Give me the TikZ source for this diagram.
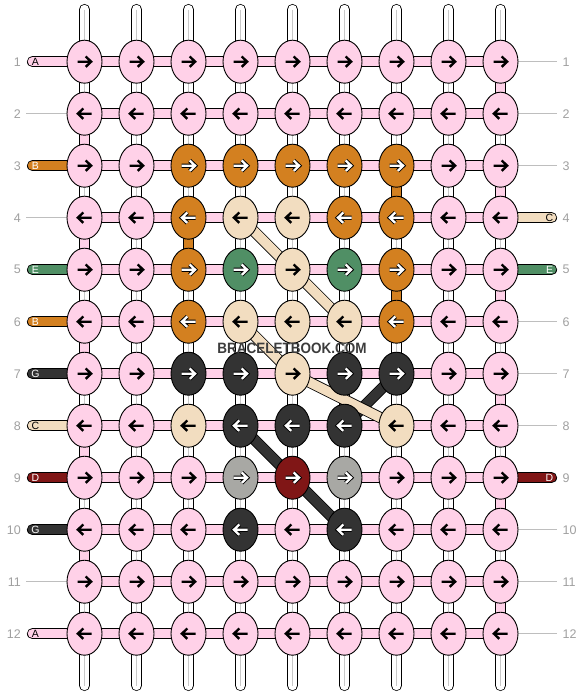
\documentclass[tikz,border=0pt]{standalone}
\usepackage{fontspec}
\setmainfont{Liberation Sans}
\usetikzlibrary{shapes.geometric}
\definecolor{kpink}{RGB}{255,209,232}
\definecolor{korange}{RGB}{211,128,32}
\definecolor{kbeige}{RGB}{242,221,192}
\definecolor{kgreen}{RGB}{80,143,101}
\definecolor{kdark}{RGB}{51,51,51}
\definecolor{kred}{RGB}{128,22,22}
\definecolor{kgrey}{RGB}{168,168,164}
\definecolor{numgrey}{RGB}{160,160,160}
\definecolor{linegrey}{RGB}{190,190,190}
\definecolor{tubegrey}{RGB}{200,200,200}
\definecolor{wmark}{RGB}{60,60,60}
\tikzset{
  knot/.style={ellipse, draw=black, line width=0.9pt, minimum width=35pt, minimum height=43pt, inner sep=0pt},
  band/.style={line width=0.8pt, draw=black, double=#1, double distance=9.5pt},
  tube/.style={band=white, line cap=round},
  gline/.style={draw=linegrey, line width=1pt},
  num/.style={text=numgrey, font=\fontsize{12.5}{13}\selectfont, inner sep=0pt},
  lbl/.style={font=\fontsize{10.5}{11}\selectfont, inner sep=0pt},
  pics/barr/.style={code={\draw[line width=2.4pt, line join=miter, black] (-7,0) -- (6.2,0) (1.2,-5.2) -- (6.6,0) -- (1.2,5.2);}},
  pics/warr/.style={code={
    \draw[line width=4.2pt, line join=miter, black] (-7,0) -- (6.2,0) (1.2,-5.2) -- (6.6,0) -- (1.2,5.2);
    \draw[line width=2.3pt, line join=miter, white] (-7,0) -- (6.2,0) (1.2,-5.2) -- (6.6,0) -- (1.2,5.2);}}
}
\begin{document}
\begin{tikzpicture}[x=1pt,y=-1pt]
\useasboundingbox (0,0) rectangle (584,696);
\fill[white] (0,0) rectangle (584,696);
% knot colours other than pink
\foreach \r/\c/\col in {3/3/korange,3/4/korange,3/5/korange,3/6/korange,3/7/korange,
  4/3/korange,4/4/kbeige,4/5/kbeige,4/6/korange,4/7/korange,
  5/3/korange,5/4/kgreen,5/5/kbeige,5/6/kgreen,5/7/korange,
  6/3/korange,6/4/kbeige,6/5/kbeige,6/6/kbeige,6/7/korange,
  7/3/kdark,7/4/kdark,7/5/kbeige,7/6/kdark,7/7/kdark,
  8/3/kbeige,8/4/kdark,8/5/kdark,8/6/kdark,8/7/kbeige,
  9/4/kgrey,9/5/kred,9/6/kgrey,
  10/4/kdark,10/6/kdark}{\expandafter\xdef\csname kc-\r-\c\endcsname{\col}}
% grid points
\foreach \r in {1,...,12}{\foreach \c in {1,...,9}{
  \coordinate (p-\r-\c) at ({84.5+52*(\c-1)},{61.7+52*(\r-1)});}}
\foreach \c in {1,...,9}{
  \coordinate (T-\c) at ({84.5+52*(\c-1)},9.5);
  \coordinate (B-\c) at ({84.5+52*(\c-1)},685.5);}
% vertical warp strings
\foreach \c in {1,...,9}{
  \draw[tube] (T-\c) -- (B-\c);
  \draw[tubegrey, line width=1.4pt] (T-\c) -- (B-\c);}
% coloured vertical segments
\foreach \c/\r/\col in {1/2/kpink,1/4/kpink,1/6/kpink,1/8/kpink,1/10/kpink,
  9/1/kpink,9/3/kpink,9/5/kpink,9/7/kpink,9/9/kpink,9/11/kpink,
  3/4/korange,7/3/korange,7/5/korange}{
  \pgfmathtruncatemacro\rn{\r+1}
  \draw[band=\col] (p-\r-\c) -- (p-\rn-\c);}
% horizontal strings
\foreach \r in {1,...,12}{\draw[band=kpink] (p-\r-1) -- (p-\r-9);}
% left ends
\foreach \r/\t/\col/\tc in {1/A/kpink/black,3/B/korange/white,5/E/kgreen/white,6/B/korange/white,
  7/G/kdark/white,8/C/kbeige/black,9/D/kred/white,10/G/kdark/white,12/A/kpink/black}{
  \coordinate (L-\r) at (32.5,{61.7+52*(\r-1)});
  \draw[band=\col, line cap=round] (L-\r) -- (p-\r-1);
  \node[lbl, text=\tc] (lt-\r) at (35.5,{61.7+52*(\r-1)}) {\t};}
\foreach \r in {2,4,11}{
  \coordinate (L-\r) at (26,{61.7+52*(\r-1)});
  \draw[gline] (L-\r) -- (p-\r-1);}
% right ends
\foreach \r/\t/\col/\tc in {4/C/kbeige/black,5/E/kgreen/white,9/D/kred/white}{
  \coordinate (R-\r) at (551.5,{61.7+52*(\r-1)});
  \draw[band=\col, line cap=round] (p-\r-9) -- (R-\r);
  \node[lbl, text=\tc] (rt-\r) at (549.5,{61.7+52*(\r-1)}) {\t};}
\foreach \r in {1,2,3,6,7,8,10,11,12}{
  \coordinate (R-\r) at (557,{61.7+52*(\r-1)});
  \draw[gline] (p-\r-9) -- (R-\r);}
% diagonal strings
\draw[band=kdark] (p-7-7) -- (p-8-6);
\draw[band=kdark] (p-8-4) -- (p-9-5);
\draw[band=kdark] (p-9-5) -- (p-10-6);
\draw[band=kbeige] (p-4-4) -- (p-5-5);
\draw[band=kbeige] (p-5-5) -- (p-6-6);
\draw[band=kbeige] (p-6-4) -- (p-7-5);
\draw[band=kbeige] (p-7-5) -- (p-8-7);
% knots
\def\strP{kpink}\def\strB{kbeige}
\foreach \r in {1,...,12}{\foreach \c in {1,...,9}{
  \ifcsname kc-\r-\c\endcsname \edef\kcol{\csname kc-\r-\c\endcsname}\else \def\kcol{kpink}\fi
  \def\aw{1}
  \ifx\kcol\strP \def\aw{0}\fi
  \ifx\kcol\strB \def\aw{0}\fi
  \ifodd\r \def\dir{1}\else \def\dir{-1}\fi
  \node[knot, fill=\kcol] (k-\r-\c) at (p-\r-\c) {};
  \ifnum\aw=1 \pic[xscale=\dir] at (k-\r-\c) {warr};\else \pic[xscale=\dir] at (k-\r-\c) {barr};\fi
}}
% row numbers
\foreach \r in {1,...,12}{
  \node[num, anchor=east] (nl-\r) at (21,{61.7+52*(\r-1)}) {\r};
  \node[num, anchor=west] (nr-\r) at (562.5,{61.7+52*(\r-1)}) {\r};}
% watermark
\node[text=wmark, inner sep=0pt, font=\bfseries\fontsize{15}{15}\selectfont] (wm) at (292,348) {\scalebox{0.9}[1]{BRACELETBOOK.COM}};
\end{tikzpicture}
\end{document}
